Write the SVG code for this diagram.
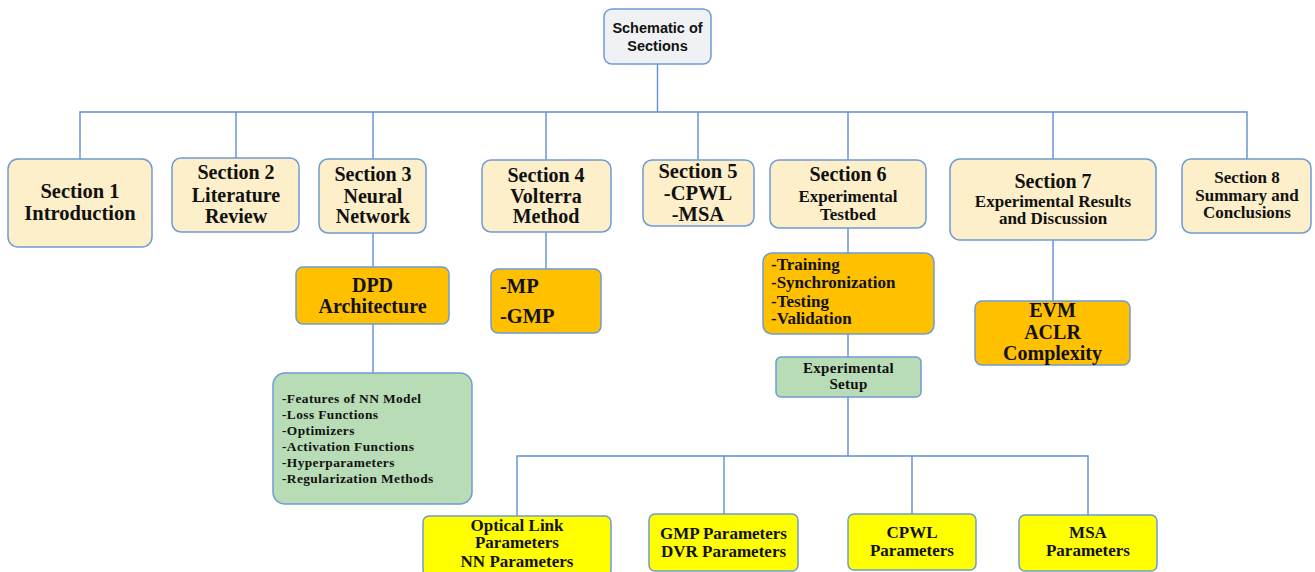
<svg xmlns="http://www.w3.org/2000/svg" width="1315" height="572" viewBox="0 0 1315 572">
  <style>
    .box { stroke: #6f9bd3; stroke-width: 1.5; }
    .root { fill: #eff1f5; }
    .sec { fill: #fdefc9; }
    .org { fill: #ffc000; }
    .grn { fill: #b8dcb6; }
    .yel { fill: #ffff00; }
    .wire { fill: none; stroke: #5f8fd2; stroke-width: 1.4; }
    text { font-family: "Liberation Serif", "Times New Roman", serif; font-weight: bold; fill: #111; }
    .c { text-anchor: middle; }
    .sans { font-family: "Liberation Sans", Arial, sans-serif; }
    .f21 { font-size: 20.5px; }
    .f20 { font-size: 20px; }
    .f17 { font-size: 17px; }
    .f15 { font-size: 15px; letter-spacing: 0.3px; }
    .f13 { font-size: 13.4px; letter-spacing: 0.4px; }
  </style>

  <!-- connectors -->
  <g id="connectors" class="wire">
    <path d="M657.5 64 V112"/>
    <path d="M80 159 V112 H1247 V159"/>
    <path d="M236 112 V158"/>
    <path d="M373 112 V159"/>
    <path d="M546 112 V160"/>
    <path d="M698 112 V160"/>
    <path d="M848 112 V160"/>
    <path d="M1053 112 V159"/>
    <path d="M373 233 V267"/>
    <path d="M373 324 V373"/>
    <path d="M546 232 V269"/>
    <path d="M848 228 V253"/>
    <path d="M848 334 V357"/>
    <path d="M1053 240 V301"/>
    <path d="M848 397 V456"/>
    <path d="M517 516 V456 H1088 V515"/>
    <path d="M724 456 V514"/>
    <path d="M912 456 V514"/>
  </g>

  <g id="root">
    <rect class="box root" x="604" y="9" width="107" height="55" rx="8"/>
    <text class="sans c" x="657.5" y="33" font-size="14.5">Schematic of</text>
    <text class="sans c" x="657.5" y="51" font-size="14.5">Sections</text>
  </g>

  <g id="section1">
    <rect class="box sec" x="8" y="159" width="144" height="88" rx="10"/>
    <text class="c f21" x="80" y="198">Section 1</text>
    <text class="c f21" x="80" y="220">Introduction</text>
  </g>

  <g id="section2">
    <rect class="box sec" x="172" y="158" width="127" height="74" rx="9"/>
    <text class="c f20" x="236" y="179">Section 2</text>
    <text class="c f20" x="236" y="202">Literature</text>
    <text class="c f20" x="236" y="223">Review</text>
  </g>

  <g id="section3">
    <rect class="box sec" x="319" y="159" width="107" height="74" rx="9"/>
    <text class="c f20" x="373" y="181">Section 3</text>
    <text class="c f20" x="373" y="203">Neural</text>
    <text class="c f20" x="373" y="223">Network</text>
  </g>

  <g id="section4">
    <rect class="box sec" x="482" y="160" width="129" height="72" rx="9"/>
    <text class="c f20" x="546" y="182">Section 4</text>
    <text class="c f20" x="546" y="203">Volterra</text>
    <text class="c f20" x="546" y="223">Method</text>
  </g>

  <g id="section5">
    <rect class="box sec" x="643" y="160" width="111" height="66" rx="9"/>
    <text class="c f21" x="698" y="178">Section 5</text>
    <text class="c f21" x="698" y="200">-CPWL</text>
    <text class="c f21" x="698" y="221">-MSA</text>
  </g>

  <g id="section6">
    <rect class="box sec" x="770" y="160" width="156" height="68" rx="9"/>
    <text class="c f20" x="848" y="181">Section 6</text>
    <text class="c f17" x="848" y="202">Experimental</text>
    <text class="c f17" x="848" y="220">Testbed</text>
  </g>

  <g id="section7">
    <rect class="box sec" x="950" y="159" width="206" height="81" rx="10"/>
    <text class="c f20" x="1053" y="188">Section 7</text>
    <text class="c f17" x="1053" y="207">Experimental Results</text>
    <text class="c f17" x="1053" y="224">and Discussion</text>
  </g>

  <g id="section8">
    <rect class="box sec" x="1182" y="159" width="129" height="74" rx="9"/>
    <text class="c f17" x="1247" y="183">Section 8</text>
    <text class="c f17" x="1247" y="201">Summary and</text>
    <text class="c f17" x="1247" y="218">Conclusions</text>
  </g>

  <g id="dpd-architecture">
    <rect class="box org" x="296" y="267" width="153" height="57" rx="7"/>
    <text class="c f20" x="372.5" y="292">DPD</text>
    <text class="c f20" x="372.5" y="313">Architecture</text>
  </g>

  <g id="nn-topics">
    <rect class="box grn" x="273" y="373" width="199" height="131" rx="12"/>
    <text class="f13" x="282" y="403">-Features of NN Model</text>
    <text class="f13" x="282" y="419">-Loss Functions</text>
    <text class="f13" x="282" y="435">-Optimizers</text>
    <text class="f13" x="282" y="451">-Activation Functions</text>
    <text class="f13" x="282" y="467">-Hyperparameters</text>
    <text class="f13" x="282" y="483">-Regularization Methods</text>
  </g>

  <g id="volterra-models">
    <rect class="box org" x="491" y="269" width="110" height="64" rx="7"/>
    <text class="f21" x="500" y="293">-MP</text>
    <text class="f21" x="500" y="323">-GMP</text>
  </g>

  <g id="testbed-steps">
    <rect class="box org" x="763" y="253" width="171" height="81" rx="9"/>
    <text class="f17" x="771" y="270">-Training</text>
    <text class="f17" x="771" y="288">-Synchronization</text>
    <text class="f17" x="771" y="307">-Testing</text>
    <text class="f17" x="771" y="324">-Validation</text>
  </g>

  <g id="experimental-setup">
    <rect class="box grn" x="776" y="357" width="145" height="40" rx="5"/>
    <text class="c f15" x="848.5" y="373">Experimental</text>
    <text class="c f15" x="848.5" y="389">Setup</text>
  </g>

  <g id="metrics">
    <rect class="box org" x="975" y="301" width="155" height="64" rx="7"/>
    <text class="c f20" x="1052.5" y="317">EVM</text>
    <text class="c f20" x="1052.5" y="339">ACLR</text>
    <text class="c f20" x="1052.5" y="360">Complexity</text>
  </g>

  <g id="optical-params">
    <rect class="box yel" x="423" y="516" width="188" height="60" rx="6"/>
    <text class="c f17" x="517" y="531">Optical Link</text>
    <text class="c f17" x="517" y="548">Parameters</text>
    <text class="c f17" x="517" y="567">NN Parameters</text>
  </g>

  <g id="gmp-dvr-params">
    <rect class="box yel" x="649" y="514" width="149" height="57" rx="6"/>
    <text class="c f17" x="723.5" y="539">GMP Parameters</text>
    <text class="c f17" x="723.5" y="557">DVR Parameters</text>
  </g>

  <g id="cpwl-params">
    <rect class="box yel" x="848" y="514" width="128" height="56" rx="6"/>
    <text class="c f17" x="912" y="538">CPWL</text>
    <text class="c f17" x="912" y="556">Parameters</text>
  </g>

  <g id="msa-params">
    <rect class="box yel" x="1019" y="515" width="138" height="56" rx="6"/>
    <text class="c f17" x="1088" y="538">MSA</text>
    <text class="c f17" x="1088" y="556">Parameters</text>
  </g>
</svg>
